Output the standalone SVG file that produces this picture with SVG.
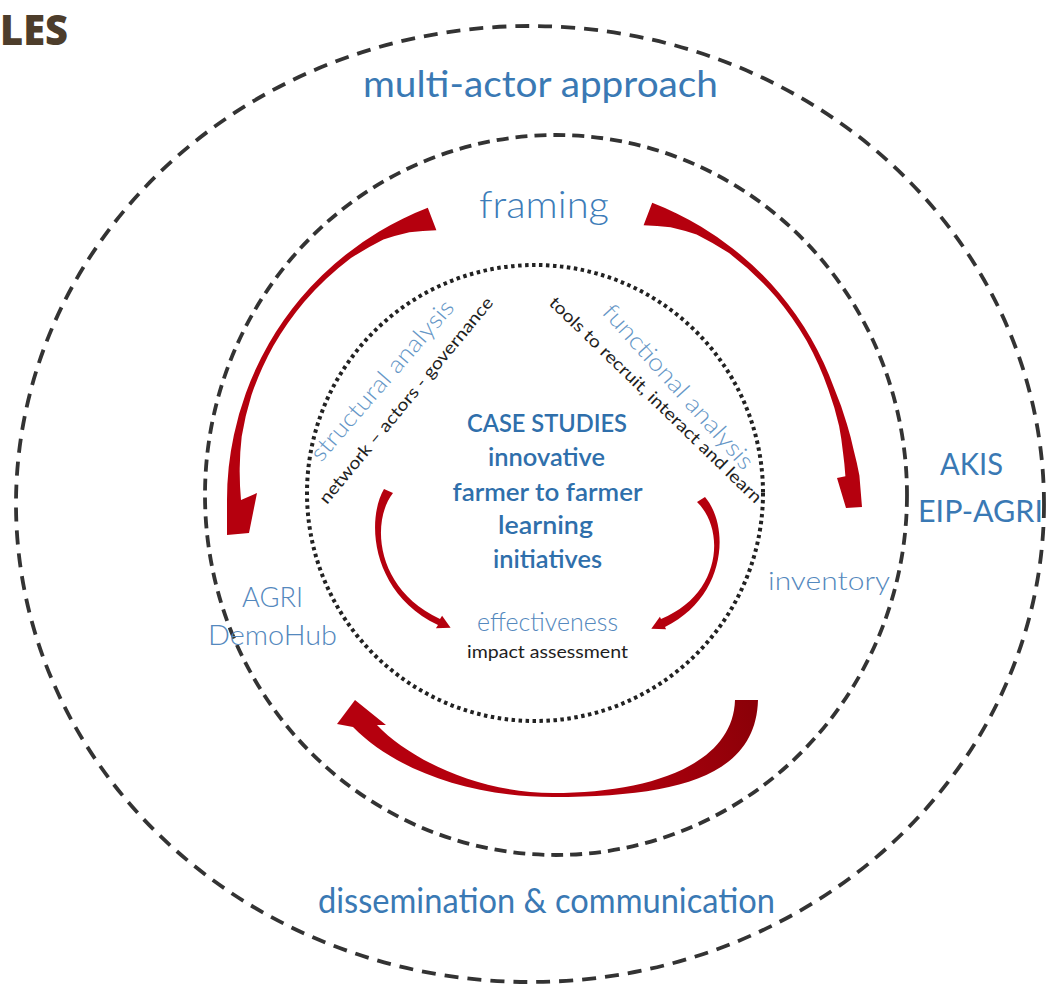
<svg xmlns="http://www.w3.org/2000/svg" width="1057" height="989" viewBox="0 0 1057 989">
  <style>
    .ring { fill: none; stroke: #333; stroke-width: 3.8; }
    .outer { stroke-dasharray: 14 9; }
    .middle { stroke-dasharray: 12 7; }
    .inner { stroke: #222; stroke-width: 4; stroke-dasharray: 3.5 3.5; }
    .arrow { fill: #b5000e; stroke: none; }
    .lbl { font-family: Lato, "Open Sans", "Liberation Sans", sans-serif; fill: #3a79b4; }
    .light { font-weight: 300; fill: #5488bd; }
    .core { font-weight: 600; fill: #2f6fab; font-size: 25px; text-anchor: middle; }
    .note { font-family: Lato, "Open Sans", "Liberation Sans", sans-serif; fill: #1e1e1e; font-size: 17px; }
  </style>
  <defs>
    <linearGradient id="tailShade" gradientUnits="userSpaceOnUse" x1="760" y1="740" x2="600" y2="790">
      <stop offset="0" stop-color="#8c0008"/>
      <stop offset="1" stop-color="#b5000e"/>
    </linearGradient>
  </defs>

  <!-- heading fragment -->
  <g id="heading">
    <text x="0" y="45" font-family="'Open Sans', 'Liberation Sans', sans-serif" font-weight="800" font-size="42" fill="#4d3d2b" textLength="68" lengthAdjust="spacingAndGlyphs">LES</text>
  </g>

  <!-- concentric rings -->
  <g id="rings">
    <ellipse class="ring outer" cx="530" cy="504" rx="514" ry="478"/>
    <ellipse class="ring middle" cx="556" cy="495" rx="351" ry="360"/>
    <circle class="ring inner" cx="535" cy="493" r="228"/>
  </g>

  <!-- cycle arrows -->
  <g id="connectors">
    <!-- framing to AGRI DemoHub, counter-clockwise around (540,500) -->
    <path id="arrow-framing-demohub" class="arrow" d="M427.8,207.8 A313,313 0 0 0 402.8,218.7 A313,313 0 0 0 378.8,231.7 A313,313 0 0 0 347.3,253.4 A313,313 0 0 0 300.2,298.8 A313,313 0 0 0 268.9,343.5 A313,313 0 0 0 245.9,393 A313,313 0 0 0 233.9,434.9 A313,313 0 0 0 228.7,467.3 A313,313 0 0 0 227,500 L227,535 L249,533 L257,493 L241,500 A302,302 0 0 1 239.7,468.4 A305,305 0 0 1 241.7,436.6 A307,307 0 0 1 251.5,395 A308,308 0 0 1 273.3,346 A308,308 0 0 1 304.1,302 A307,307 0 0 1 351,258.1 A304,304 0 0 1 383.4,239.4 A298,298 0 0 1 409.4,232.2 A290,290 0 0 1 436.4,230.2 Z"/>
    <!-- framing to inventory, clockwise around (540,495) -->
    <path id="arrow-framing-inventory" class="arrow" d="M652.2,202.8 A313,313 0 0 1 677.2,213.7 A313,313 0 0 1 701.2,226.7 A313,313 0 0 1 732.7,248.4 A313,313 0 0 1 779.8,293.8 A313,313 0 0 1 811.1,338.5 A313,313 0 0 1 834.1,388 A314,314 0 0 1 846.9,424.1 A316,316 0 0 1 853.9,450.9 A319,319 0 0 1 859.4,475.5 L862,507 L846,508 L837,478 L845.4,476.3 A306,306 0 0 0 843,452.4 A306,306 0 0 0 839.1,425.9 A307,307 0 0 0 828.5,390 A307,307 0 0 0 806.7,341 A308,308 0 0 0 775.9,297 A308,308 0 0 0 729,253.1 A305,305 0 0 0 696.6,234.4 A300,300 0 0 0 670.6,227.2 A292,292 0 0 0 643.6,225.2 Z"/>
    <!-- inventory back to AGRI DemoHub along the bottom -->
    <path id="arrow-inventory-demohub" class="arrow" style="fill:url(#tailShade)" d="M758,700 C756,775 680,797 553,797 C470,797 395,770 353,727 L337,724 L355,700 L386,725 L377,725 C410,760 480,793 553,793 C650,793 733,765 735,700 Z"/>
    <!-- structural analysis to effectiveness -->
    <path id="arrow-structural-effectiveness" class="arrow" d="M384,489 C366,520 371,593 438,625 L435.9,628.3 L450.6,627.8 L442.1,615.7 L440,619 C375,589 371,521 393,493 Z"/>
    <!-- functional analysis to effectiveness -->
    <path id="arrow-functional-effectiveness" class="arrow" d="M705,497 C731,528 725,598 665,627 L666.1,629.3 L651.3,628.7 L659.9,616.7 L661,619 C721,595 726,530 697,502 Z"/>
  </g>

  <!-- outer ring labels -->
  <g id="multi-actor">
    <text class="lbl" x="363" y="97" font-size="36" textLength="355" lengthAdjust="spacingAndGlyphs">multi-actor approach</text>
  </g>
  <g id="dissemination">
    <text class="lbl" x="318" y="913" font-size="34" textLength="457" lengthAdjust="spacingAndGlyphs">dissemination &amp; communication</text>
  </g>
  <g id="akis">
    <text class="lbl" x="940" y="475" font-size="30" textLength="63" lengthAdjust="spacingAndGlyphs">AKIS</text>
    <text class="lbl" x="918" y="522" font-size="30" textLength="125" lengthAdjust="spacingAndGlyphs">EIP-AGRI</text>
  </g>

  <!-- middle ring labels -->
  <g id="framing">
    <text class="lbl light" x="479" y="218" font-size="38" textLength="130" lengthAdjust="spacingAndGlyphs" style="fill:#3d7cb8">framing</text>
  </g>
  <g id="demohub">
    <text class="lbl light" x="242" y="607" font-size="28" textLength="61" lengthAdjust="spacingAndGlyphs">AGRI</text>
    <text class="lbl light" x="208" y="645" font-size="28" textLength="129" lengthAdjust="spacingAndGlyphs">DemoHub</text>
  </g>
  <g id="inventory">
    <text class="lbl light" x="768" y="590" font-size="26" textLength="122" lengthAdjust="spacingAndGlyphs">inventory</text>
  </g>

  <!-- inner ring labels -->
  <g id="structural">
    <text class="lbl light" x="321" y="463" font-size="24" textLength="205" lengthAdjust="spacingAndGlyphs" transform="rotate(-49 321 463)" style="fill:#6596c6">structural analysis</text>
    <text class="note" x="327" y="505" textLength="262" lengthAdjust="spacingAndGlyphs" transform="rotate(-50.4 327 505)">network – actors - governance</text>
  </g>
  <g id="functional">
    <text class="lbl light" x="601" y="313" font-size="24" textLength="213" lengthAdjust="spacingAndGlyphs" transform="rotate(48 601 313)" style="fill:#6596c6">functional analysis</text>
    <text class="note" x="548" y="304" textLength="288" lengthAdjust="spacingAndGlyphs" transform="rotate(44 548 304)">tools to recruit, interact and learn</text>
  </g>
  <g id="case-studies">
    <text class="lbl core" x="547" y="432" textLength="160" lengthAdjust="spacingAndGlyphs">CASE STUDIES</text>
    <text class="lbl core" x="546.5" y="466" textLength="117" lengthAdjust="spacingAndGlyphs">innovative</text>
    <text class="lbl core" x="547.5" y="501" textLength="190" lengthAdjust="spacingAndGlyphs">farmer to farmer</text>
    <text class="lbl core" x="545.5" y="534" textLength="95" lengthAdjust="spacingAndGlyphs">learning</text>
    <text class="lbl core" x="547.5" y="568" textLength="109" lengthAdjust="spacingAndGlyphs">initiatives</text>
  </g>
  <g id="effectiveness">
    <text class="lbl light" x="477" y="631" font-size="25" textLength="141" lengthAdjust="spacingAndGlyphs">effectiveness</text>
    <text class="note" x="467" y="658" textLength="161" lengthAdjust="spacingAndGlyphs">impact assessment</text>
  </g>
</svg>
